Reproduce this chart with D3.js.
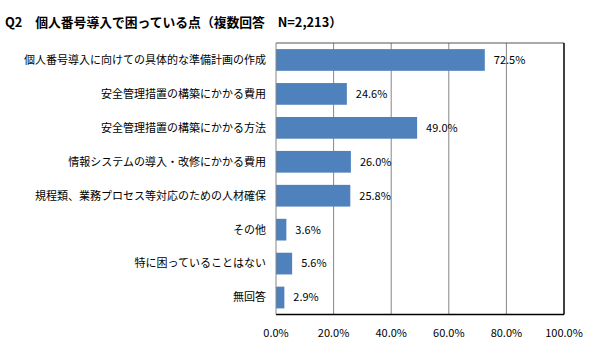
<!DOCTYPE html>
<html><head><meta charset="utf-8">
<script src="https://cdn.jsdelivr.net/npm/d3@7"></script>
<style>body{margin:0;background:#fff;}svg{display:block;}text{font-family:"Noto Sans CJK JP","Noto Sans",sans-serif;}</style>
</head><body>
<svg id="c" width="598" height="345"></svg>
<script>
const categories = [
  "個人番号導入に向けての具体的な準備計画の作成",
  "安全管理措置の構築にかかる費用",
  "安全管理措置の構築にかかる方法",
  "情報システムの導入・改修にかかる費用",
  "規程類、業務プロセス等対応のための人材確保",
  "その他",
  "特に困っていることはない",
  "無回答"
];
const values = [72.5, 24.6, 49.0, 26.0, 25.8, 3.6, 5.6, 2.9];
const ticks = [0, 20, 40, 60, 80, 100];
const title = "Q2　個人番号導入で困っている点（複数回答　N=2,213）";

const svg = d3.select("#c");
const L = 276, R = 564, T = 43, B = 314.5;
const x = d3.scaleLinear().domain([0, 100]).range([L, R]);
const y = d3.scaleBand().domain(categories).range([T, B]).paddingInner(0.36).paddingOuter(0.18);

svg.append("text").attr("x", 5).attr("y", 27).attr("font-size", 12.8).attr("font-weight", "bold")
  .attr("fill", "#000").text(title);

// gridlines
svg.append("g").selectAll("line").data(ticks.slice(1, -1)).join("line")
  .attr("x1", d => x(d)).attr("x2", d => x(d)).attr("y1", T).attr("y2", B)
  .attr("stroke", "#868686").attr("stroke-width", 1);

// bars
svg.append("g").selectAll("rect").data(values).join("rect")
  .attr("x", x(0)).attr("y", (d, i) => y(categories[i]))
  .attr("width", d => x(d) - x(0)).attr("height", y.bandwidth())
  .attr("fill", "#4f81bd");

// frame
svg.append("line").attr("x1", L).attr("x2", R).attr("y1", T).attr("y2", T).attr("stroke", "#555").attr("stroke-width", 1);
svg.append("line").attr("x1", R).attr("x2", R).attr("y1", T).attr("y2", B).attr("stroke", "#000").attr("stroke-width", 1.5);
svg.append("line").attr("x1", L).attr("x2", R).attr("y1", B).attr("y2", B).attr("stroke", "#000").attr("stroke-width", 1.5);
svg.append("line").attr("x1", L).attr("x2", L).attr("y1", T).attr("y2", B).attr("stroke", "#868686").attr("stroke-width", 1);

// value labels
svg.append("g").selectAll("text").data(values).join("text")
  .attr("x", d => x(d) + 9).attr("y", (d, i) => y(categories[i]) + y.bandwidth() / 2)
  .attr("dy", "0.35em").attr("font-size", 11).attr("fill", "#000")
  .text(d => d.toFixed(1) + "%");

// category labels
svg.append("g").selectAll("text").data(categories).join("text")
  .attr("x", 266).attr("y", d => y(d) + y.bandwidth() / 2)
  .attr("dy", "0.35em").attr("text-anchor", "end").attr("font-size", 11).attr("fill", "#000")
  .text(d => d);

// x tick labels
svg.append("g").selectAll("text").data(ticks).join("text")
  .attr("x", d => x(d)).attr("y", 333).attr("dy", "0.35em").attr("text-anchor", "middle")
  .attr("font-size", 11).attr("fill", "#000").text(d => d.toFixed(1) + "%");
</script>
</body></html>
